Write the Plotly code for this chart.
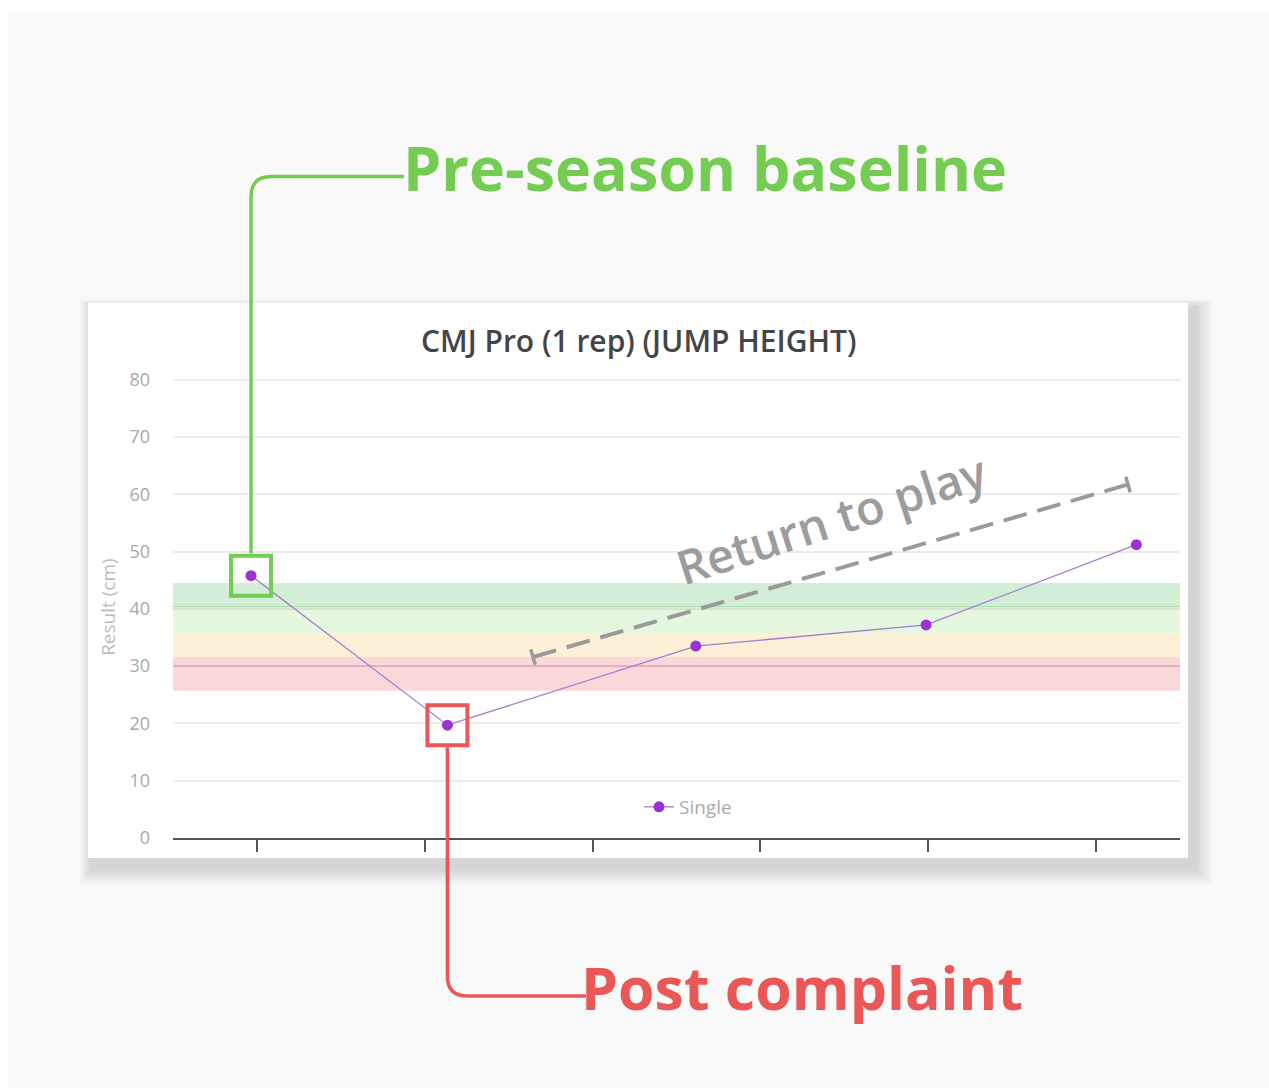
import plotly.graph_objects as go

# ---------------- data ----------------
chart_title = "CMJ Pro (1 rep) (JUMP HEIGHT)"
series_name = "Single"
x_positions = [0.465, 1.635, 3.115, 4.487, 5.74]      # session positions along the time axis
jump_height = [45.8, 19.7, 33.5, 37.2, 51.2]          # cm
x_ticks = [0.5, 1.5, 2.5, 3.5, 4.5, 5.5]
y_ticks = [0, 10, 20, 30, 40, 50, 60, 70, 80]
band_edges = [25.7, 31.6, 35.8, 40.4, 44.5]
band_colors = ["rgba(238,110,118,0.27)", "rgba(244,210,120,0.30)",
               "rgba(160,230,140,0.28)", "rgba(110,200,120,0.30)"]
band_lines = [30, 40.4]
band_line_colors = ["rgba(190,120,150,0.35)", "rgba(110,190,110,0.40)"]
rtp_start = [2.145, 31.6]
rtp_end = [5.69, 61.7]
label_baseline = "Pre-season baseline"
label_post = "Post complaint"
label_rtp = "Return to play"

# ---------------- geometry ----------------
W, H = 1269, 1088
XMAX, YMAX = 6, 80.3
L, R, B = 173, 1180, 838
T = B - (B - 380) * YMAX / 80


def xp(px):
    return (px - L) / (R - L)


def yp(py):
    return (B - py) / (B - T)


def dx2px(x):
    return L + x / XMAX * (R - L)


def dy2px(y):
    return B - y / YMAX * (B - T)


GREEN = "#74cc52"
RED = "#ea5757"

fig = go.Figure()
fig.add_trace(go.Scatter(
    x=x_positions, y=jump_height, mode="lines+markers", name=series_name,
    line=dict(color="#a57ccc", width=1.3),
    marker=dict(color="#9a32d4", size=11),
    showlegend=True,
))

shapes = []
# white outer strips
shapes.append(dict(type="rect", xref="paper", yref="paper", x0=xp(0), x1=xp(W), y0=yp(0), y1=yp(12),
                   fillcolor="white", line=dict(width=0), layer="below"))
shapes.append(dict(type="rect", xref="paper", yref="paper", x0=xp(0), x1=xp(8), y0=yp(0), y1=yp(H),
                   fillcolor="white", line=dict(width=0), layer="below"))
# card shadow (soft, offset to lower right)
for i in range(9):
    g = 24 - i * 2.6
    shapes.append(dict(type="rect", xref="paper", yref="paper",
                       x0=xp(88 + 4 - g * 0.5), x1=xp(1188 + 8 + g * 0.7),
                       y0=yp(858 + 10 + g * 0.7), y1=yp(303 + 4 - g * 0.3),
                       fillcolor="rgba(0,0,0,0.017)", line=dict(width=0), layer="below"))
# card
shapes.append(dict(type="rect", xref="paper", yref="paper", x0=xp(88), x1=xp(1188), y0=yp(858), y1=yp(303),
                   fillcolor="white", line=dict(width=0), layer="below"))
# bands
for lo, hi, col in zip(band_edges[:-1], band_edges[1:], band_colors):
    shapes.append(dict(type="rect", xref="paper", yref="y", x0=0, x1=1, y0=lo, y1=hi,
                       fillcolor=col, line=dict(width=0), layer="between"))
for yv, col in zip(band_lines, band_line_colors):
    shapes.append(dict(type="line", xref="paper", yref="y", x0=0, x1=1, y0=yv, y1=yv,
                       line=dict(color=col, width=1.2), layer="between"))

# highlight boxes
for idx, col in [(0, GREEN), (1, RED)]:
    shapes.append(dict(type="rect", xref="x", yref="y",
                       xsizemode="pixel", ysizemode="pixel",
                       xanchor=x_positions[idx], yanchor=jump_height[idx],
                       x0=-20, x1=20, y0=-20, y1=20,
                       line=dict(color=col, width=4), fillcolor="rgba(0,0,0,0)", layer="above"))

# connectors (pixel space -> paper)
gx = dx2px(x_positions[0])
gtop = dy2px(jump_height[0]) - 22
r = 20
hy = 177
path_g = "M %f,%f L %f,%f Q %f,%f %f,%f L %f,%f" % (
    xp(gx), yp(gtop), xp(gx), yp(hy + r), xp(gx), yp(hy), xp(gx + r), yp(hy), xp(404), yp(hy))
shapes.append(dict(type="path", xref="paper", yref="paper", path=path_g,
                   line=dict(color=GREEN, width=3.5), layer="above"))

rx = dx2px(x_positions[1])
rbot = dy2px(jump_height[1]) + 22
ry = 996
path_r = "M %f,%f L %f,%f Q %f,%f %f,%f L %f,%f" % (
    xp(rx), yp(rbot), xp(rx), yp(ry - r), xp(rx), yp(ry), xp(rx + r), yp(ry), xp(586), yp(ry))
shapes.append(dict(type="path", xref="paper", yref="paper", path=path_r,
                   line=dict(color=RED, width=3.5), layer="above"))

# return-to-play dashed arrow
sx, sy = dx2px(rtp_start[0]), dy2px(rtp_start[1])
ex, ey = dx2px(rtp_end[0]), dy2px(rtp_end[1])
shapes.append(dict(type="line", xref="paper", yref="paper",
                   x0=xp(sx), y0=yp(sy), x1=xp(ex), y1=yp(ey),
                   line=dict(color="#9a9a9a", width=4, dash="24px,11px"), layer="above"))
dxl, dyl = ex - sx, ey - sy
ln = (dxl ** 2 + dyl ** 2) ** 0.5
nx, ny = -dyl / ln, dxl / ln
for cx, cy in [(sx, sy), (ex, ey)]:
    shapes.append(dict(type="line", xref="paper", yref="paper",
                       x0=xp(cx - nx * 8), y0=yp(cy - ny * 8), x1=xp(cx + nx * 8), y1=yp(cy + ny * 8),
                       line=dict(color="#9a9a9a", width=3.5), layer="above"))

annotations = [
    dict(text=chart_title, xref="paper", yref="paper", x=xp(638), y=yp(341), showarrow=False,
         font=dict(family="Open Sans", size=30, color="#454545", weight=600), xanchor="center", yanchor="middle"),
    dict(text="Result (cm)", xref="paper", yref="paper", x=xp(108), y=yp(607), showarrow=False,
         textangle=-90, font=dict(family="Open Sans", size=19, color="#bdbdbd"), xanchor="center", yanchor="middle"),
    dict(text=label_baseline, xref="paper", yref="paper", x=xp(401), y=yp(168), showarrow=False,
         font=dict(family="Open Sans", size=61, color=GREEN, weight=700), xanchor="left", yanchor="middle"),
    dict(text=label_post, xref="paper", yref="paper", x=xp(579), y=yp(987), showarrow=False,
         font=dict(family="Open Sans", size=59, color=RED, weight=700), xanchor="left", yanchor="middle"),
    dict(text=label_rtp, xref="paper", yref="paper", x=xp(831), y=yp(519), showarrow=False,
         textangle=-18, font=dict(family="Open Sans", size=47, color="#9c9c9c", weight=600),
         xanchor="center", yanchor="middle"),
]

fig.update_layout(
    width=W, height=H,
    margin=dict(l=L, r=W - R, t=T, b=H - B, pad=0),
    paper_bgcolor="#f9f9f9", plot_bgcolor="rgba(0,0,0,0)",
    shapes=shapes, annotations=annotations,
    showlegend=True,
    legend=dict(x=xp(639), y=yp(807), xanchor="left", yanchor="middle", orientation="h",
                bgcolor="rgba(0,0,0,0)", font=dict(family="Open Sans", size=19, color="#aaaaaa"),
                itemwidth=30),
    xaxis=dict(range=[0, XMAX], tickvals=x_ticks, showticklabels=False, ticks="outside",
               ticklen=12, tickwidth=1.5, tickcolor="#555555", showgrid=False, zeroline=False,
               showline=True, linecolor="#555555", linewidth=1.5, fixedrange=True),
    yaxis=dict(range=[0, YMAX], tickvals=y_ticks, showgrid=True, gridcolor="rgba(0,0,0,0.075)", gridwidth=1.5,
               zeroline=False, showline=False, ticklabelstandoff=22,
               tickfont=dict(family="Open Sans", size=18, color="#a8a8a8"), fixedrange=True),
)

fig.write_html("out.html", config={"displayModeBar": False},
               post_script="document.body.style.margin='0';")
